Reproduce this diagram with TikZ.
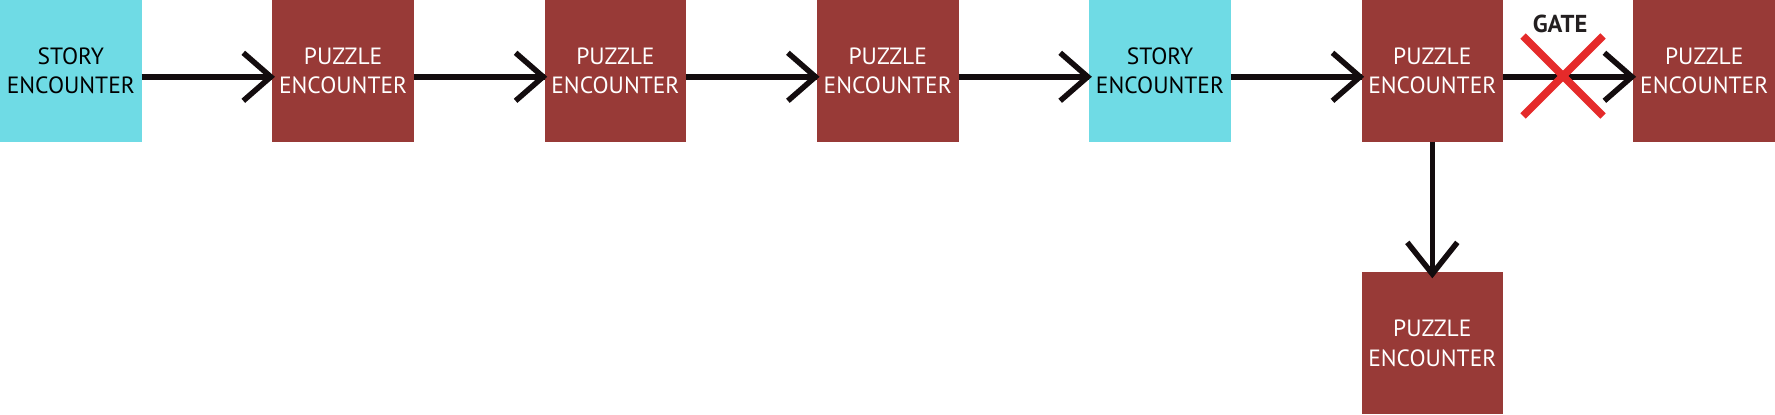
\documentclass[tikz,border=0pt]{standalone}
\usepackage{fontspec}
\setmainfont{PT Sans}
\definecolor{storycol}{HTML}{6FDBE5}
\definecolor{puzzcol}{HTML}{983A37}
\definecolor{arrcol}{HTML}{130C0E}
\definecolor{gatecol}{HTML}{E52A2A}
\definecolor{gatetxt}{HTML}{231F20}
\begin{document}
\begin{tikzpicture}[x=1bp,y=-1bp,
  box/.style={minimum width=141.6bp,minimum height=141.6bp,inner sep=0pt,outer sep=0pt,align=center,
    font=\fontsize{23.5bp}{29.7bp}\selectfont},
  story/.style={box,fill=storycol,text=black},
  puzzle/.style={box,fill=puzzcol,text=white},
  chev/.style={line width=5.5bp,draw=arrcol},
  conn/.style={line width=5.5bp,draw=arrcol}]
\useasboundingbox (0,0) rectangle (1775,414);
\node[story]  (s1) at (70.8,70.8) {STORY\\ENCOUNTER};
\node[puzzle] (p1) at (343.1,70.8) {PUZZLE\\ENCOUNTER};
\node[puzzle] (p2) at (615.4,70.8) {PUZZLE\\ENCOUNTER};
\node[puzzle] (p3) at (887.7,70.8) {PUZZLE\\ENCOUNTER};
\node[story]  (s2) at (1160.0,70.8) {STORY\\ENCOUNTER};
\node[puzzle] (p4) at (1432.3,70.8) {PUZZLE\\ENCOUNTER};
\node[puzzle] (p5) at (1704.2,70.8) {PUZZLE\\ENCOUNTER};
\node[puzzle] (p6) at (1432.3,343.2) {PUZZLE\\ENCOUNTER};
% horizontal connectors
\foreach \a/\b in {s1/p1,p1/p2,p2/p3,p3/s2,s2/p4,p4/p5}{
  \coordinate (t\b) at ([yshift=-6bp]\b.west);
  \draw[conn] ([yshift=-6bp]\a.east) -- (t\b);
  \draw[chev,miter limit=10] ([shift={(-29,-24)}]t\b) -- ([xshift=-1.5]t\b) -- ([shift={(-29,24)}]t\b);
}
% vertical connector
\coordinate (tp6) at (p6.north);
\draw[conn] (p4.south) -- (tp6);
\draw[chev,miter limit=10] ([shift={(-25,-30)}]tp6) -- ([yshift=-1.5]tp6) -- ([shift={(25,-30)}]tp6);
% gate
\coordinate (gx) at (1563,76);
\draw[gatecol,line width=7.5bp] ([shift={(-40,-40)}]gx) -- ([shift={(40,40)}]gx);
\draw[gatecol,line width=7.5bp] ([shift={(-40,40)}]gx) -- ([shift={(40,-40)}]gx);
\node[font=\fontsize{24.5bp}{26bp}\selectfont\bfseries,text=gatetxt,inner sep=0pt] (gate) at (1560,24) {GATE};
\end{tikzpicture}
\end{document}
